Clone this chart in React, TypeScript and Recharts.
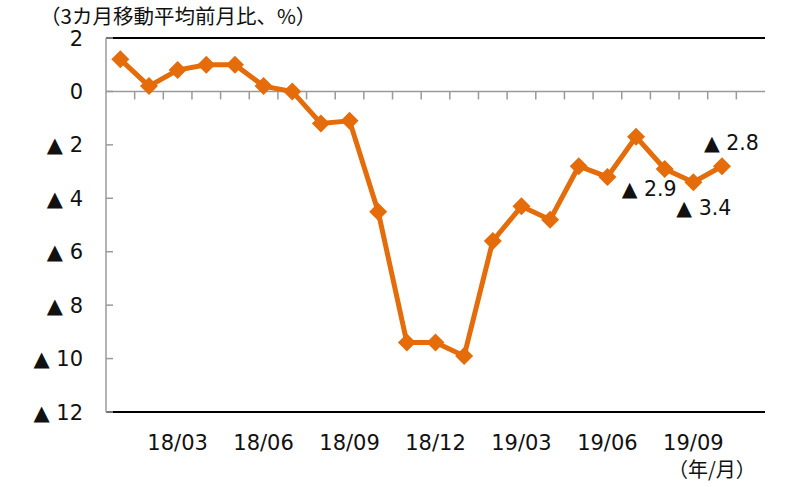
import React from "react";
import {
  LineChart,
  Line,
  XAxis,
  YAxis,
  ReferenceLine,
} from "recharts";

// months 18/01 .. 19/11 (last slot left empty, as in the original)
const months = [
  "18/01", "18/02", "18/03", "18/04", "18/05", "18/06", "18/07", "18/08",
  "18/09", "18/10", "18/11", "18/12", "19/01", "19/02", "19/03", "19/04",
  "19/05", "19/06", "19/07", "19/08", "19/09", "19/10", "19/11",
];
const momAvg3 = [
  1.2, 0.2, 0.8, 1.0, 1.0, 0.2, 0.0, -1.2, -1.1, -4.5, -9.4, -9.4, -9.9,
  -5.6, -4.3, -4.8, -2.8, -3.2, -1.7, -2.9, -3.4, -2.8, null,
];
const yTicks = [2, 0, -2, -4, -6, -8, -10, -12];
const shownMonths = ["03", "06", "09", "12"];
const annotated = ["19/08", "19/09", "19/10"];

const data = months.map((m, i) => ({ month: m, value: momAvg3[i] }));

const W = 799;
const H = 487;
const M = { top: 38, right: 34, bottom: 45, left: 0 };
const Y_AXIS_W = 106;
const X_AXIS_H = 30;
const plotW = W - M.left - M.right - Y_AXIS_W;
const plotH = H - M.top - M.bottom - X_AXIS_H;
const band = plotW / months.length;
const zeroY = M.top + (plotH * 2) / 14;

const ORANGE = "#E46C0A";
const FONT = "'DejaVu Sans', Verdana, sans-serif";

const fmt = (v: number) => (v < 0 ? `▲ ${Math.abs(v)}` : `${v}`);

const Diamond = (props: any) => {
  const { cx, cy } = props;
  if (cx == null || cy == null) return null;
  const r = 9;
  return (
    <polygon
      points={`${cx},${cy - r} ${cx + r},${cy} ${cx},${cy + r} ${cx - r},${cy}`}
      fill={ORANGE}
    />
  );
};

const XTick = (props: any) => {
  const { x, y, payload, index } = props;
  const label: string = payload.value;
  const show = shownMonths.includes(label.slice(3));
  return (
    <g>
      {index > 0 && (
        <line
          x1={x - band / 2}
          x2={x - band / 2}
          y1={zeroY}
          y2={zeroY + 8}
          stroke="#9a9a9a"
          strokeWidth={1.5}
        />
      )}
      {show && (
        <text x={x} y={y + 30} textAnchor="middle" fontSize={21} fill="#111" fontFamily={FONT}>
          {label}
        </text>
      )}
    </g>
  );
};

const YTick = (props: any) => {
  const { x, y, payload } = props;
  return (
    <g>
      <line x1={x} x2={x + 7} y1={y} y2={y} stroke="#9a9a9a" strokeWidth={1.5} />
      <text x={x - 23} y={y + 7.5} textAnchor="end" fontSize={21} fill="#111" fontFamily={FONT}>
        {fmt(payload.value)}
      </text>
    </g>
  );
};

const labelOffset: Record<string, [number, number]> = {
  "19/08": [-43, 27],
  "19/09": [-17, 33],
  "19/10": [-18, -16],
};

const PointLabel = (props: any) => {
  const { x, y, value, index } = props;
  const m = months[index];
  if (!annotated.includes(m) || value == null) return null;
  const [dx, dy] = labelOffset[m];
  return (
    <text x={x + dx} y={y + dy} fontSize={20.5} fill="#111" fontFamily={FONT}>
      {fmt(value)}
    </text>
  );
};

export default function App() {
  return (
    <div style={{ position: "absolute", left: 0, top: 0, width: W, height: H, background: "#fff" }}>
      <div
        style={{
          position: "absolute",
          left: 40,
          top: 3,
          fontSize: 20.5,
          lineHeight: "24px",
          fontFamily: "'Noto Sans CJK JP', sans-serif",
          color: "#111",
          whiteSpace: "nowrap",
        }}
      >
        （3カ月移動平均前月比、%）
      </div>
      <LineChart width={W} height={H} data={data} margin={M}>
        <XAxis
          dataKey="month"
          scale="band"
          interval={0}
          height={X_AXIS_H}
          axisLine={false}
          tickLine={false}
          tick={<XTick />}
        />
        <YAxis
          domain={[-12, 2]}
          ticks={yTicks}
          interval={0}
          width={Y_AXIS_W}
          tickSize={0}
          tickMargin={0}
          tickLine={false}
          axisLine={{ stroke: "#9a9a9a", strokeWidth: 1.5 }}
          tick={<YTick />}
        />
        <YAxis
          yAxisId="frame"
          orientation="right"
          domain={[-12, 2]}
          width={0}
          tick={false}
          tickLine={false}
          axisLine={{ stroke: "#000", strokeWidth: 2 }}
        />
        <ReferenceLine y={2} stroke="#000" strokeWidth={2} />
        <ReferenceLine y={-12} stroke="#000" strokeWidth={2} />
        <ReferenceLine y={0} stroke="#9a9a9a" strokeWidth={1.5} />
        <Line
          dataKey="value"
          stroke={ORANGE}
          strokeWidth={5}
          dot={<Diamond />}
          activeDot={false}
          label={<PointLabel />}
          isAnimationActive={false}
        />
      </LineChart>
      <div
        style={{
          position: "absolute",
          left: 668,
          top: 459,
          fontSize: 20,
          lineHeight: "20px",
          fontFamily: "'Noto Sans CJK JP', sans-serif",
          color: "#111",
          whiteSpace: "nowrap",
        }}
      >
        （年/月）
      </div>
    </div>
  );
}
